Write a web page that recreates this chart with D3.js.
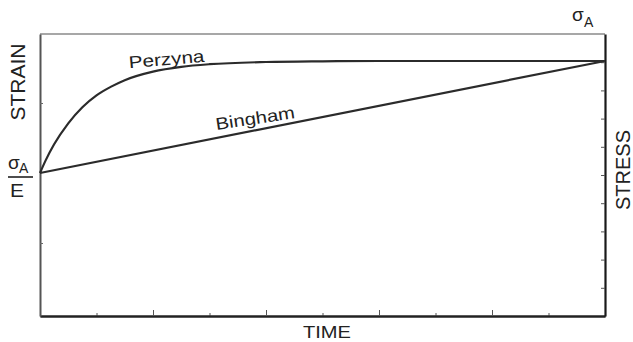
<!DOCTYPE html>
<html>
<head>
<meta charset="utf-8">
<script src="https://cdn.jsdelivr.net/npm/d3@7"></script>
<style>
  body { margin: 0; background: #fff; }
  text { font-family: "Liberation Sans", Arial, sans-serif; fill: #222; }
</style>
</head>
<body>
<div id="chart"></div>
<script>
// time in divisions (0..10), strain in units of sigmaA/E
const perzynaTime   = [0, 0.1, 0.25, 0.5, 0.75, 1.0, 1.25, 1.5, 2.0, 2.5, 3.0, 4.0, 5.0, 6.0, 8.0, 10];
const perzynaStrain = [1.0, 1.09, 1.205, 1.355, 1.47, 1.555, 1.615, 1.663, 1.724, 1.758, 1.777, 1.793, 1.798, 1.8, 1.8, 1.8];
const binghamTime   = [0, 10];
const binghamStrain = [1.0, 1.8];
const timeMajorTicks = [2, 4, 6, 8];
const timeMinorTicks = [1, 3, 5, 7, 9];
const strainTicks = [0.5, 1.5];
const stressTicks = [1, 2, 3, 4, 5, 6, 7, 8, 9];

const width = 633, height = 342;
const plotLeft = 40, plotRight = 605, plotTop = 34, plotBottom = 316;

const svg = d3.select("#chart").append("svg")
	.attr("width", width)
	.attr("height", height);

const x = d3.scaleLinear().domain([0, 10]).range([plotLeft, plotRight]);
const yStrain = d3.scaleLinear().domain([0, 2]).range([313, 33]);
const yStress = d3.scaleLinear().domain([0, 10]).range([plotBottom, plotTop]);

// top border (light gray)
svg.append("line")
	.attr("x1", x(0)).attr("x2", x(10))
	.attr("y1", yStress(10)).attr("y2", yStress(10))
	.attr("stroke", "#8a8a8a").attr("stroke-width", 1.6);

// bottom axis: minor + major ticks pointing up
const gx = svg.append("g").attr("transform", "translate(0," + plotBottom + ")");
gx.append("g").call(d3.axisBottom(x).tickValues(timeMinorTicks).tickSize(-3).tickFormat("").tickSizeOuter(0));
gx.append("g").call(d3.axisBottom(x).tickValues(timeMajorTicks).tickSize(-6).tickFormat("").tickSizeOuter(0));
gx.selectAll("path.domain").attr("stroke", "#222").attr("stroke-width", 2);
gx.selectAll(".tick line").attr("stroke", "#555").attr("stroke-width", 1);

// left axis (strain)
const gl = svg.append("g").attr("transform", "translate(" + plotLeft + ",0)")
	.call(d3.axisLeft(yStress).tickValues([]).tickSizeOuter(0));
gl.selectAll(".tick").remove();
gl.append("g").call(d3.axisLeft(yStrain).tickValues(strainTicks).tickSize(-3).tickFormat(""))
	.select("path.domain").remove();
gl.select("path.domain").attr("stroke", "#555").attr("stroke-width", 2);
gl.selectAll(".tick line").attr("stroke", "#666");

// right axis (stress)
const gr = svg.append("g").attr("transform", "translate(" + plotRight + ",0)")
	.call(d3.axisRight(yStress).tickValues(stressTicks).tickSize(-4).tickFormat("").tickSizeOuter(0));
gr.select("path.domain").attr("stroke", "#1a1a1a").attr("stroke-width", 2.2);
gr.selectAll(".tick line").attr("stroke", "#555");

// curves
const perzyna = perzynaTime.map((t, i) => [t, perzynaStrain[i]]);
const bingham = binghamTime.map((t, i) => [t, binghamStrain[i]]);
const line = d3.line()
	.x(d => x(d[0]))
	.y(d => yStrain(d[1]))
	.curve(d3.curveMonotoneX);

svg.append("path").datum(perzyna)
	.attr("d", line)
	.attr("fill", "none").attr("stroke", "#2b2b2b").attr("stroke-width", 2.2);
svg.append("path").datum(bingham)
	.attr("d", line)
	.attr("fill", "none").attr("stroke", "#2b2b2b").attr("stroke-width", 2.2);

// curve labels
svg.append("text").text("Perzyna")
	.attr("x", 167).attr("y", 65)
	.attr("text-anchor", "middle")
	.attr("font-size", 17)
	.attr("textLength", 76).attr("lengthAdjust", "spacingAndGlyphs")
	.attr("transform", "rotate(-5, 167, 65)");
svg.append("text").text("Bingham")
	.attr("x", 256).attr("y", 124)
	.attr("text-anchor", "middle")
	.attr("font-size", 17)
	.attr("textLength", 80).attr("lengthAdjust", "spacingAndGlyphs")
	.attr("transform", "rotate(-8.5, 256, 124)");

// axis titles
svg.append("text").text("STRAIN")
	.attr("transform", "translate(25,82) rotate(-90)")
	.attr("text-anchor", "middle")
	.attr("font-size", 21);
svg.append("text").text("STRESS")
	.attr("transform", "translate(630,170) rotate(-90)")
	.attr("text-anchor", "middle")
	.attr("font-size", 20);
svg.append("text").text("TIME")
	.attr("x", 327).attr("y", 337.5)
	.attr("text-anchor", "middle")
	.attr("font-size", 17)
	.attr("textLength", 48).attr("lengthAdjust", "spacingAndGlyphs");

// sigma_A / E at origin of strain
const frac = svg.append("g");
frac.append("text").attr("x", 8).attr("y", 169).attr("font-size", 19).text("σ");
frac.append("text").attr("x", 19).attr("y", 173).attr("font-size", 14).text("A");
frac.append("line").attr("x1", 8).attr("x2", 33).attr("y1", 177).attr("y2", 177)
	.attr("stroke", "#222").attr("stroke-width", 1.6);
frac.append("text").attr("x", 10).attr("y", 197).attr("font-size", 19)
	.attr("textLength", 14).attr("lengthAdjust", "spacingAndGlyphs").text("E");

// sigma_A at top of stress
svg.append("text").attr("x", 572).attr("y", 21).attr("font-size", 19).text("σ");
svg.append("text").attr("x", 584).attr("y", 27).attr("font-size", 14).text("A");
</script>
</body>
</html>
